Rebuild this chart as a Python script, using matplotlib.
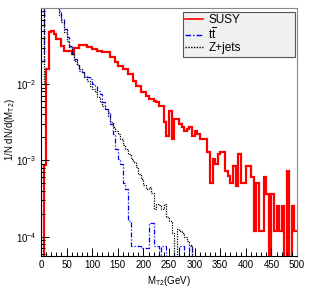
import matplotlib
matplotlib.use('Agg')
import matplotlib.pyplot as plt
import numpy as np
from matplotlib.ticker import MultipleLocator, LogLocator, LogFormatterMathtext, NullFormatter

plt.rcParams['font.family'] = ['Liberation Sans', 'DejaVu Sans']
plt.rcParams['mathtext.fontset'] = 'custom'
plt.rcParams['mathtext.rm'] = 'Liberation Sans'
plt.rcParams['mathtext.it'] = 'Liberation Sans:italic'

# histogram binning: 5 GeV bins from 0 to 500
edges = np.arange(0, 505, 5)

# SUSY (normalised)
susy = [0, 8.6e-4, 0.016, 0.048, 0.050, 0.045, 0.039, 0.039, 0.032, 0.027,
        0.027, 0.027, 0.025, 0.030, 0.030, 0.033, 0.033, 0.033, 0.031, 0.031,
        0.029, 0.029, 0.027, 0.027, 0.026, 0.026, 0.026, 0.0225, 0.0225, 0.0194,
        0.0172, 0.0172, 0.0157, 0.0157, 0.0135, 0.0135, 0.011, 0.0094, 0.0094, 0.0079,
        0.0079, 0.0070, 0.0064, 0.0064, 0.0060, 0.0058, 0.0052, 0.0052, 0.0032, 0.0021,
        0.0044, 0.0019, 0.0035, 0.0035, 0.0030, 0.0027, 0.0024, 0.0026, 0.0027, 0.0021,
        0.0024, 0.0022, 0.0019, 0.0019, 0.0019, 0.0013, 0.0005, 0.00105, 0.0009, 0.0012,
        0.0013, 0.0013, 0.00073, 0.00063, 0.0005, 0.00085, 0.00046, 0.0012, 0.0005, 0.0005,
        0.00085, 0.00085, 0.0006, 0.00012, 0.0005, 0.00012, 0.00012, 0.0006, 0.00036, 0,
        0.00036, 0.00012, 0.00025, 0.00012, 0.00025, 0, 0.00073, 0, 0.00025, 0.00012]

# ttbar
ttbar = [0.02, 0.13, 0.2, 0.18, 0.15, 0.12, 0.11, 0.09, 0.071, 0.052,
         0.042, 0.032, 0.025, 0.021, 0.018, 0.015, 0.0145, 0.0127, 0.0123, 0.0116,
         0.0100, 0.0094, 0.0081, 0.0074, 0.0058, 0.0047, 0.0043, 0.0030, 0.0022, 0.0014,
         0.00105, 0.0009, 0.0005, 0.00042, 0.00016, 7.5e-5, 7.5e-5, 7.5e-5, 7.5e-5, 7e-5,
         7e-5, 7e-5, 1.5e-4, 1.5e-4, 7.5e-5, 7.5e-5, 0, 7.5e-5, 7.5e-5, 0,
         0, 0, 0, 0, 7.5e-5, 7.5e-5, 0, 0, 7.5e-5, 0] + [0] * 40

# Z+jets
zjets = [0.01, 0.25, 0.3, 0.25, 0.18, 0.12, 0.10, 0.081, 0.066, 0.048,
         0.037, 0.031, 0.025, 0.020, 0.018, 0.0157, 0.0145, 0.0123, 0.011, 0.0094,
         0.0086, 0.0079, 0.0068, 0.0058, 0.0052, 0.0047, 0.0038, 0.0032, 0.0027, 0.0024,
         0.0022, 0.0019, 0.0016, 0.0014, 0.0012, 0.00105, 0.00096, 0.00082, 0.00067, 0.00057,
         0.00048, 0.00042, 0.00045, 0.00037, 0.00023, 0.00027, 0.00026, 0.00023, 0.00027, 0.00018,
         0.00016, 0.00011, 0, 0.000126, 0.00012, 0.00011, 0.0001, 8.9e-5, 7.7e-5, 0] + [0] * 40


def floor(v):
    # empty bins drop below the visible range on a log axis
    v = np.asarray(v, dtype=float)
    return np.where(v > 0, v, 1e-7)


fig = plt.figure(figsize=(3.15, 3.01), dpi=100)
ax = fig.add_axes([0.130, 0.150, 0.813, 0.823])

ax.stairs(floor(susy), edges, color='#ff0000', lw=1.6, label='SUSY', baseline=None)
ax.stairs(floor(ttbar), edges, color='#0000ff', lw=0.9, ls=(0, (4, 1.5, 1, 1.5)),
          label=r'$\mathregular{t\overline{t}}$', baseline=None)
ax.stairs(floor(zjets), edges, color='black', lw=0.9, ls=(0, (1, 1)),
          label='Z+jets', baseline=None)

ax.set_yscale('log')
ax.set_xlim(0, 500)
ax.set_ylim(5.6e-5, 0.099)

ax.xaxis.set_major_locator(MultipleLocator(50))
ax.xaxis.set_minor_locator(MultipleLocator(10))
ax.yaxis.set_major_locator(LogLocator(base=10))
ax.yaxis.set_minor_locator(LogLocator(base=10, subs=np.arange(2, 10)))
ax.yaxis.set_major_formatter(LogFormatterMathtext())
ax.yaxis.set_minor_formatter(NullFormatter())

ax.tick_params(which='both', direction='in', top=False, right=False, labelsize=7, width=0.7)
ax.tick_params(which='major', length=5.5, pad=3)
ax.tick_params(which='minor', length=2.8)

for s in ['top', 'right']:
    ax.spines[s].set_color('#888888')
    ax.spines[s].set_linewidth(0.8)
for s in ['left', 'bottom']:
    ax.spines[s].set_color('black')
    ax.spines[s].set_linewidth(0.8)

ax.set_xlabel(r'$\mathregular{M_{T2}}$(GeV)', fontsize=7, labelpad=3)
ax.set_ylabel(r'1/N dN/d($\mathregular{M_{T2}}$)', fontsize=7)
ax.yaxis.set_label_coords(-0.092, 0.51)

leg = ax.legend(loc='upper left', bbox_to_anchor=(0.581, 0.817, 0.356, 0.143),
                bbox_transform=fig.transFigure, mode='expand',
                fontsize=8.5, frameon=True, fancybox=False, framealpha=1,
                facecolor='#f0f0f0', edgecolor='#555555', borderaxespad=0,
                handlelength=1.5, handletextpad=0.45, labelspacing=0.0,
                borderpad=0.2)
leg.get_frame().set_linewidth(0.8)
for line in leg.get_lines():
    line.set_linewidth(1.0)
leg.get_lines()[0].set_linewidth(1.2)

fig.savefig('out.png', dpi=100)
